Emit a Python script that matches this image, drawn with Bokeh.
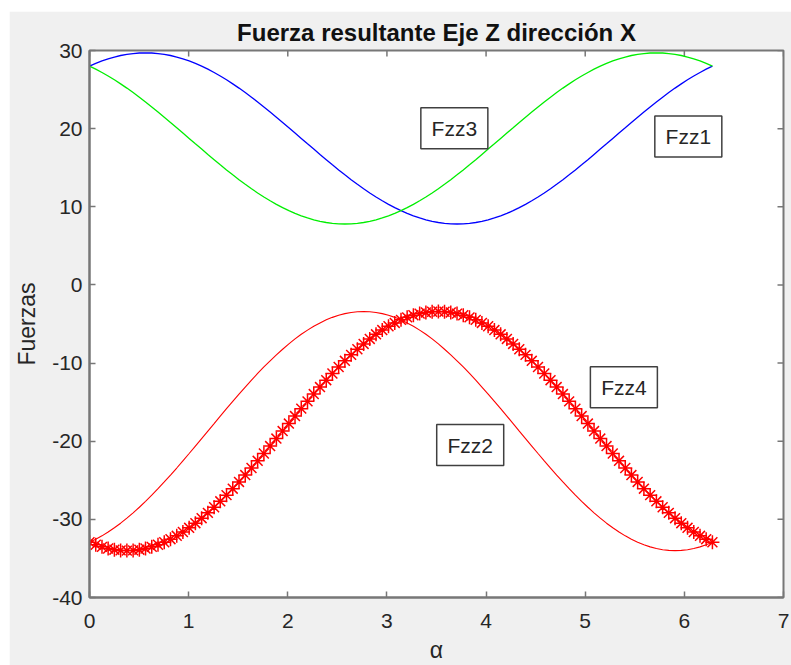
import math
from bokeh.plotting import figure
from bokeh.models import Range1d, FixedTicker, Spacer
from bokeh.layouts import column, row
from bokeh.embed import file_html
from bokeh.resources import INLINE
from bokeh.core.properties import value

# ---------------- data ----------------
alpha = [
    0.000, 0.063, 0.126, 0.188, 0.251, 0.314, 0.377, 0.440, 0.503, 0.565,
    0.628, 0.691, 0.754, 0.817, 0.880, 0.942, 1.005, 1.068, 1.131, 1.194,
    1.257, 1.319, 1.382, 1.445, 1.508, 1.571, 1.634, 1.696, 1.759, 1.822,
    1.885, 1.948, 2.011, 2.073, 2.136, 2.199, 2.262, 2.325, 2.388, 2.450,
    2.513, 2.576, 2.639, 2.702, 2.765, 2.827, 2.890, 2.953, 3.016, 3.079,
    3.142, 3.204, 3.267, 3.330, 3.393, 3.456, 3.519, 3.581, 3.644, 3.707,
    3.770, 3.833, 3.896, 3.958, 4.021, 4.084, 4.147, 4.210, 4.273, 4.335,
    4.398, 4.461, 4.524, 4.587, 4.650, 4.712, 4.775, 4.838, 4.901, 4.964,
    5.027, 5.089, 5.152, 5.215, 5.278, 5.341, 5.404, 5.466, 5.529, 5.592,
    5.655, 5.718, 5.781, 5.843, 5.906, 5.969, 6.032, 6.095, 6.158, 6.220,
    6.283,
]

fzz1 = [
    28.00, 28.35, 28.66, 28.93, 29.16, 29.36, 29.51, 29.61, 29.68, 29.70,
    29.68, 29.61, 29.51, 29.36, 29.16, 28.93, 28.66, 28.35, 28.00, 27.61,
    27.19, 26.73, 26.25, 25.73, 25.19, 24.62, 24.03, 23.41, 22.78, 22.13,
    21.47, 20.80, 20.12, 19.44, 18.75, 18.06, 17.38, 16.70, 16.03, 15.37,
    14.72, 14.09, 13.47, 12.88, 12.31, 11.77, 11.25, 10.77, 10.31, 9.89,
    9.50, 9.15, 8.84, 8.57, 8.34, 8.14, 7.99, 7.89, 7.82, 7.80,
    7.82, 7.89, 7.99, 8.14, 8.34, 8.57, 8.84, 9.15, 9.50, 9.89,
    10.31, 10.77, 11.25, 11.77, 12.31, 12.88, 13.47, 14.09, 14.72, 15.37,
    16.03, 16.70, 17.38, 18.06, 18.75, 19.44, 20.12, 20.80, 21.47, 22.13,
    22.78, 23.41, 24.03, 24.62, 25.19, 25.73, 26.25, 26.73, 27.19, 27.61,
    28.00,
]

fzz3 = [
    28.00, 27.61, 27.19, 26.73, 26.25, 25.73, 25.19, 24.62, 24.03, 23.41,
    22.78, 22.13, 21.47, 20.80, 20.12, 19.44, 18.75, 18.06, 17.38, 16.70,
    16.03, 15.37, 14.72, 14.09, 13.47, 12.88, 12.31, 11.77, 11.25, 10.77,
    10.31, 9.89, 9.50, 9.15, 8.84, 8.57, 8.34, 8.14, 7.99, 7.89,
    7.82, 7.80, 7.82, 7.89, 7.99, 8.14, 8.34, 8.57, 8.84, 9.15,
    9.50, 9.89, 10.31, 10.77, 11.25, 11.77, 12.31, 12.88, 13.47, 14.09,
    14.72, 15.37, 16.03, 16.70, 17.38, 18.06, 18.75, 19.44, 20.12, 20.80,
    21.47, 22.13, 22.78, 23.41, 24.03, 24.62, 25.19, 25.73, 26.25, 26.73,
    27.19, 27.61, 28.00, 28.35, 28.66, 28.93, 29.16, 29.36, 29.51, 29.61,
    29.68, 29.70, 29.68, 29.61, 29.51, 29.36, 29.16, 28.93, 28.66, 28.35,
    28.00,
]

fzz2 = [
    -32.93, -32.54, -32.11, -31.62, -31.08, -30.49, -29.85, -29.17, -28.45, -27.69,
    -26.90, -26.07, -25.21, -24.33, -23.43, -22.51, -21.57, -20.62, -19.66, -18.70,
    -17.74, -16.78, -15.83, -14.90, -13.97, -13.07, -12.19, -11.33, -10.50, -9.71,
    -8.95, -8.23, -7.55, -6.91, -6.32, -5.78, -5.29, -4.86, -4.47, -4.15,
    -3.88, -3.67, -3.52, -3.43, -3.40, -3.43, -3.52, -3.67, -3.88, -4.15,
    -4.47, -4.86, -5.29, -5.78, -6.32, -6.91, -7.55, -8.23, -8.95, -9.71,
    -10.50, -11.33, -12.19, -13.07, -13.97, -14.90, -15.83, -16.78, -17.74, -18.70,
    -19.66, -20.62, -21.57, -22.51, -23.43, -24.33, -25.21, -26.07, -26.90, -27.69,
    -28.45, -29.17, -29.85, -30.49, -31.08, -31.62, -32.11, -32.54, -32.93, -33.25,
    -33.52, -33.73, -33.88, -33.97, -34.00, -33.97, -33.88, -33.73, -33.52, -33.25,
    -32.93,
]

fzz4 = [
    -32.93, -33.25, -33.52, -33.73, -33.88, -33.97, -34.00, -33.97, -33.88, -33.73,
    -33.52, -33.25, -32.93, -32.54, -32.11, -31.62, -31.08, -30.49, -29.85, -29.17,
    -28.45, -27.69, -26.90, -26.07, -25.21, -24.33, -23.43, -22.51, -21.57, -20.62,
    -19.66, -18.70, -17.74, -16.78, -15.83, -14.90, -13.97, -13.07, -12.19, -11.33,
    -10.50, -9.71, -8.95, -8.23, -7.55, -6.91, -6.32, -5.78, -5.29, -4.86,
    -4.47, -4.15, -3.88, -3.67, -3.52, -3.43, -3.40, -3.43, -3.52, -3.67,
    -3.88, -4.15, -4.47, -4.86, -5.29, -5.78, -6.32, -6.91, -7.55, -8.23,
    -8.95, -9.71, -10.50, -11.33, -12.19, -13.07, -13.97, -14.90, -15.83, -16.78,
    -17.74, -18.70, -19.66, -20.62, -21.57, -22.51, -23.43, -24.33, -25.21, -26.07,
    -26.90, -27.69, -28.45, -29.17, -29.85, -30.49, -31.08, -31.62, -32.11, -32.54,
    -32.93,
]

label_text = ["Fzz1", "Fzz2", "Fzz3", "Fzz4"]
label_x = [6.04, 3.84, 3.68, 5.39]
label_y = [19.0, -20.5, 20.05, -13.1]

x_ticks = [0, 1, 2, 3, 4, 5, 6, 7]
y_ticks = [-40, -30, -20, -10, 0, 10, 20, 30]
y_tick_labels = ["-40", "-30", "-20", "-10", "0", "10", "20", "30"]

title_text = "Fuerza resultante Eje Z dirección X"
x_label = "α"
y_label = "Fuerzas"

# ---------------- styling ----------------
FONT = "Liberation Sans"
AXIS_COLOR = "#777777"
TEXT_COLOR = "#262626"
X_MIN, X_MAX = 0, 7
Y_MIN, Y_MAX = -40, 30

p = figure(
    width=782, height=654,
    x_range=Range1d(X_MIN, X_MAX), y_range=Range1d(Y_MIN, Y_MAX),
    output_backend="svg", toolbar_location=None,
    min_border_left=80, min_border_right=8,
    min_border_top=39, min_border_bottom=66,
)
p.border_fill_color = "#f0f0f0"
p.background_fill_color = "white"
p.outline_line_color = AXIS_COLOR
p.outline_line_width = 2
p.xgrid.visible = False
p.ygrid.visible = False

p.title.text = title_text
p.title.align = "center"
p.title.text_font = FONT
p.title.text_font_size = "24px"
p.title.text_font_style = "bold"
p.title.text_color = "#111111"
p.title.standoff = 9

def style_axis(ax, ticks):
    ax.ticker = FixedTicker(ticks=ticks)
    ax.minor_tick_line_color = None
    ax.major_tick_in = 6
    ax.major_tick_out = 0
    ax.major_tick_line_color = AXIS_COLOR
    ax.major_tick_line_width = 1.5
    ax.axis_line_color = AXIS_COLOR
    ax.axis_line_width = 2
    ax.major_label_text_font = FONT
    ax.major_label_text_color = TEXT_COLOR
    ax.major_label_text_font_size = "21px"
    ax.axis_label_text_font = FONT
    ax.axis_label_text_font_size = "23px"
    ax.axis_label_text_font_style = "normal"
    ax.axis_label_text_color = TEXT_COLOR

xa = p.xaxis[0]
ya = p.yaxis[0]
style_axis(xa, x_ticks)
style_axis(ya, y_ticks)
ya.major_label_overrides = {t: s for t, s in zip(y_ticks, y_tick_labels)}
xa.major_label_standoff = 16
ya.major_label_standoff = 7
xa.axis_label = x_label
ya.axis_label = y_label
xa.axis_label_standoff = 6
ya.axis_label_standoff = 9

# inward tick marks on the top and right edges (half of each dash is clipped by the frame)
p.scatter(x_ticks, [Y_MAX] * len(x_ticks), marker="dash", size=12,
          angle=math.pi / 2, line_color=AXIS_COLOR, line_width=1.5)
p.scatter([X_MAX] * len(y_ticks), y_ticks, marker="dash", size=12,
          line_color=AXIS_COLOR, line_width=1.5)

# ---------------- series ----------------
p.line(alpha, fzz1, line_color="#0000ff", line_width=1.3)
p.line(alpha, fzz3, line_color="#00ee00", line_width=1.3)
p.line(alpha, fzz2, line_color="#ff0000", line_width=1.1)
p.scatter(alpha, fzz4, marker="asterisk", size=14, line_color="#ff0000",
          line_width=1.5)

# ---------------- text boxes ----------------
p.rect(x=label_x, y=label_y, width=67, height=41,
       width_units="screen", height_units="screen",
       fill_color="white", line_color="#404040", line_width=1.5)
p.text(x=label_x, y=label_y, text=label_text,
       text_align="center", text_baseline="middle",
       text_font=value(FONT), text_font_size="21px", text_color=TEXT_COLOR)

layout = column(Spacer(width=782, height=11),
                row(Spacer(width=9, height=654), p))

open("out.html", "w").write(file_html(layout, INLINE))
